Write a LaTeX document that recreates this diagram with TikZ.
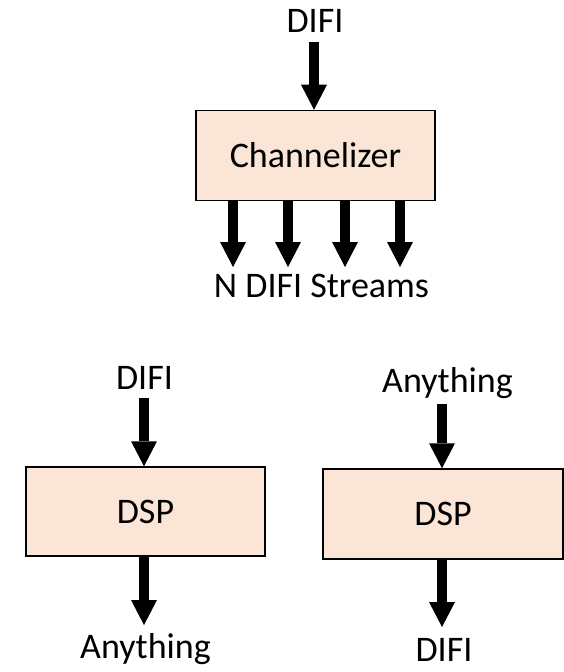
\documentclass[tikz,border=0pt]{standalone}
\usepackage{fontspec}
\setmainfont{Carlito}
\usetikzlibrary{arrows.meta}
\definecolor{boxfill}{HTML}{FBE5D6}
\begin{document}
\begin{tikzpicture}[x=1bp,y=-1bp,
  lbl/.style={font=\fontsize{36bp}{40bp}\selectfont, inner sep=0pt, anchor=base},
  blk/.style={draw=black, line width=1.5bp, fill=boxfill, minimum height=90bp,
    inner sep=0pt, font=\fontsize{36bp}{40bp}\selectfont},
  flow/.style={line width=10bp, -{Triangle[width=26bp,length=25bp,line width=0pt]}}]
\fill[white] (0,0) rectangle (564,672);
\useasboundingbox (0,0) rectangle (564,672);

% Channelizer
\node[blk, minimum width=239bp] (ch) at (315.5,155.5) {Channelizer};
\node[lbl] (tin) at (315,33) {DIFI};
\node[lbl] (streams) at (321.5,297) {N DIFI Streams};
\coordinate (a0) at (314,42);
\draw[flow] (a0) -- (ch.north -| a0);
\foreach \x/\n in {233/1,288/2,345/3,400/4}{
  \coordinate (s\n) at (\x,267);
  \draw[flow] (ch.south -| s\n) -- (s\n);
}

% Left DSP
\node[blk, minimum width=239bp, minimum height=89bp] (dl) at (145.5,511.5) {DSP};
\node[lbl] (lin) at (144.5,389) {DIFI};
\node[lbl] (lout) at (145.5,658) {Anything};
\coordinate (lb) at (144,398);
\coordinate (le) at (144,625);
\draw[flow] (lb) -- (dl.north -| lb);
\draw[flow] (dl.south -| le) -- (le);

% Right DSP
\node[blk, minimum width=240bp] (dr) at (443,514) {DSP};
\node[lbl] (rin) at (447.5,392) {Anything};
\node[lbl] (rout) at (444,661) {DIFI};
\coordinate (rb) at (442,404);
\coordinate (re) at (442,627);
\draw[flow] (rb) -- (dr.north -| rb);
\draw[flow] (dr.south -| re) -- (re);
\end{tikzpicture}
\end{document}
